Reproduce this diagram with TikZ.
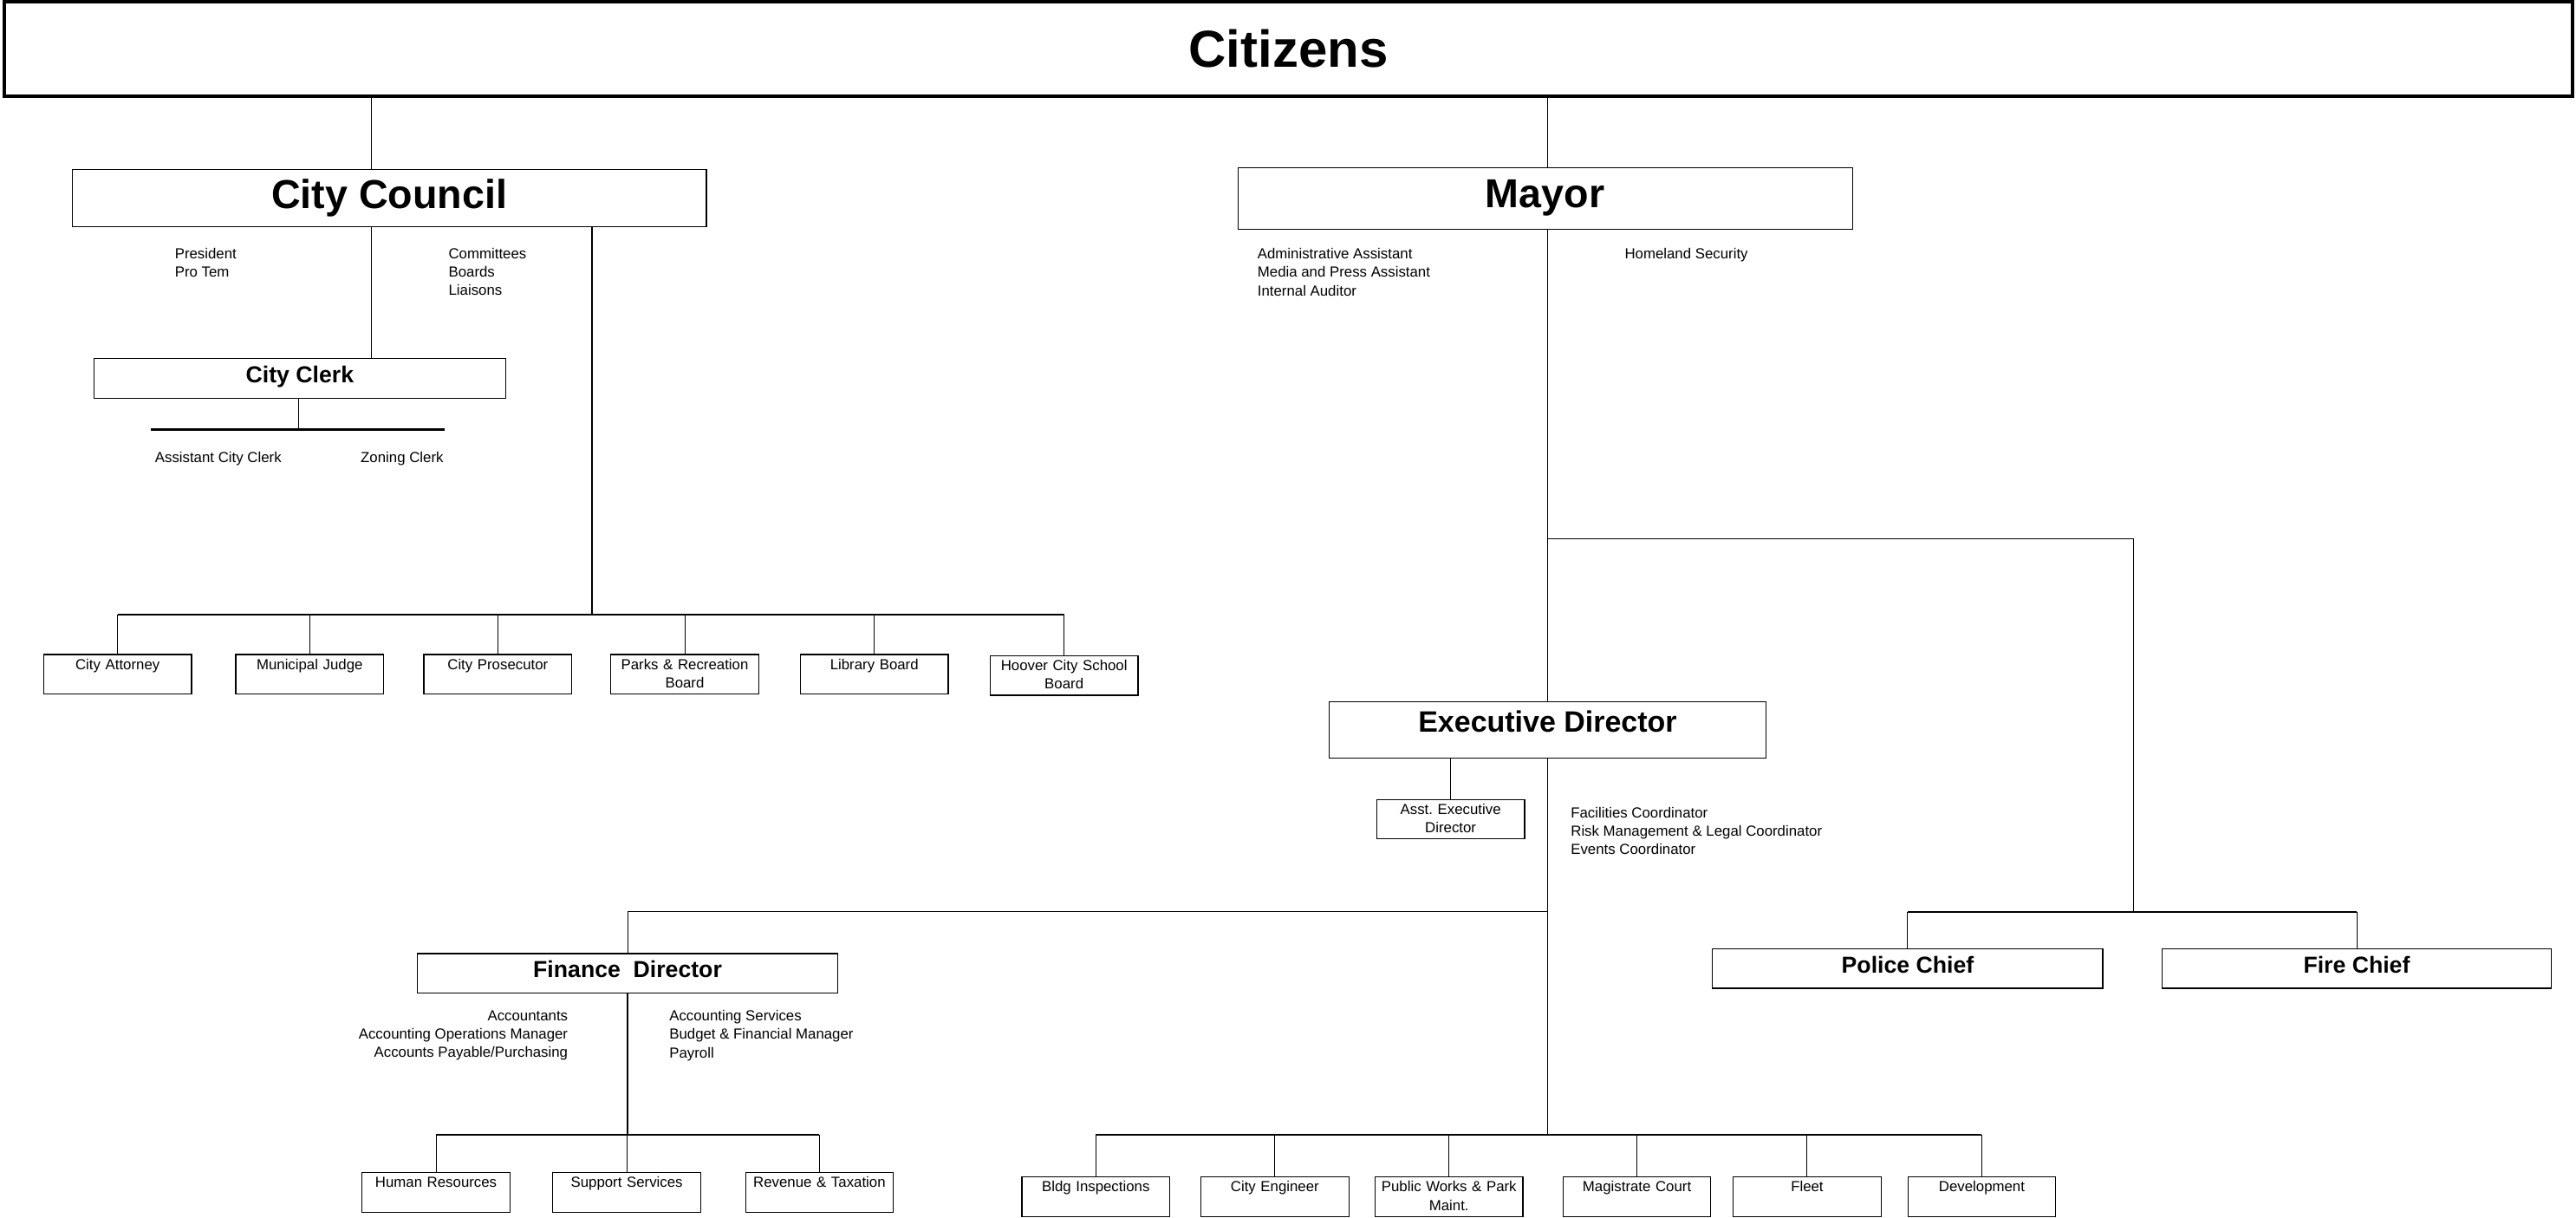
\documentclass[tikz,border=0pt]{standalone}
\usepackage{fontspec}
\setmainfont{Liberation Sans}
\usepackage{tikz}
\frenchspacing
\tikzset{
    box/.style={draw, line width=0.7pt, inner sep=0pt},
    unit/.style={box, anchor=north, text width=36mm, align=center, text height=3.6mm, text depth=6mm, font=\fontsize{10.1}{12.8}\selectfont},
    head/.style={box, font=\fontsize{16}{19}\selectfont\bfseries, text depth=5.7pt},
    note/.style={inner sep=0pt, align=left, font=\fontsize{10.1}{12.8}\selectfont},
    trunk/.style={line width=1pt},
    bar/.style={line width=1.1pt},
    drop/.style={line width=0.6pt}
}

\begin{document}
\begin{tikzpicture}[x=0.4mm, y=-0.4mm]
    \useasboundingbox (0, 0) rectangle (1568, 741);
    \node[box, line width=2.5pt, minimum width=625.4mm, minimum height=22.96mm, font=\fontsize{36}{40}\selectfont\bfseries] (citizens) at (784.3, 29.8) {Citizens};
    \begin{scope}
        \node[box, minimum width=154.4mm, minimum height=13.84mm, font=\fontsize{28}{32}\selectfont\bfseries] (council) at (237, 120.6) {City Council};
        \node[head, minimum width=100.3mm, minimum height=9.72mm] (clerk) at (182.5, 230.4) {City Clerk};
        \node[note, anchor=north west] (president) at (106.3, 150.7) {President\\Pro Tem};
        \node[note, anchor=north west] (committees) at (272.9, 150.7) {Committees\\Boards\\Liaisons};
        \node[note, anchor=north west] (asstclerk) at (94.2, 275) {Assistant City Clerk};
        \node[note, anchor=north west] (zoning) at (219.4, 275) {Zoning Clerk};
        \node[unit] (attorney) at (71.6, 398) {City Attorney};
        \node[unit] (judge) at (188.5, 398) {Municipal Judge};
        \node[unit] (prosecutor) at (303, 398) {City Prosecutor};
        \node[unit] (parks) at (416.8, 398) {Parks \& Recreation\\Board};
        \node[unit] (library) at (532.2, 398) {Library Board};
        \node[unit] (school) at (647.7, 398.8) {Hoover City School\\Board};
        \coordinate (cl) at (226, 0);
        \coordinate (cbar) at (360.3, 374);
        \coordinate (kbar) at (181.7, 261.5);
        \coordinate (kl) at (91.9, 261.5);
        \coordinate (kr) at (270.9, 261.5);
        \draw[trunk] (citizens.south -| cl) -- (council.north -| cl);
        \draw[trunk] (council.south -| cl) -- (clerk.north -| cl);
        \draw[drop] (clerk.south -| kbar) -- (kbar);
        \draw[line width=1.4pt] (kl) -- (kr);
        \draw[trunk] (council.south -| cbar) -- (cbar);
        \draw[bar] (attorney.north |- cbar) -- (school.north |- cbar);
        \draw[drop] (attorney.north |- cbar) -- (attorney.north) (judge.north |- cbar) -- (judge.north)
            (prosecutor.north |- cbar) -- (prosecutor.north) (parks.north |- cbar) -- (parks.north)
            (library.north |- cbar) -- (library.north) (school.north |- cbar) -- (school.north);
    \end{scope}
    \begin{scope}
        \node[box, minimum width=149.6mm, minimum height=14.92mm, font=\fontsize{28}{32}\selectfont\bfseries] (mayor) at (940.5, 120.7) {Mayor};
        \node[note, anchor=north west] (mayorstaff) at (765.3, 150.9) {Administrative Assistant\\Media and Press Assistant\\Internal Auditor};
        \node[note, anchor=north west] (homeland) at (988.8, 150.9) {Homeland Security};
        \node[box, minimum width=106.2mm, minimum height=13.72mm, font=\fontsize{20.4}{24}\selectfont\bfseries, text depth=11.4pt] (ed) at (942, 444.2) {Executive Director};
        \node[unit] (asst) at (883, 486.3) {Asst. Executive\\Director};
        \node[note, anchor=north west] (coordinators) at (956, 491) {Facilities Coordinator\\Risk Management \& Legal Coordinator\\Events Coordinator};
        \node[head, minimum width=95mm, minimum height=9.6mm] (police) at (1161.2, 589.4) {Police Chief};
        \node[head, minimum width=94.8mm, minimum height=9.6mm] (fire) at (1434.5, 589.4) {Fire Chief};
        \node[head, minimum width=102.5mm, minimum height=9.56mm] (finance) at (382, 592.3) {Finance\ \ Director};
        \node[note, anchor=north east, align=right] (accountants) at (345.8, 614.7) {Accountants\\Accounting Operations Manager\\Accounts Payable/Purchasing};
        \node[note, anchor=north west] (services) at (407.3, 614.7) {Accounting Services\\Budget \& Financial Manager\\Payroll};
        \node[unit] (hr) at (265.4, 713.3) {Human Resources};
        \node[unit] (support) at (381.5, 713.3) {Support Services};
        \node[unit] (revenue) at (498.8, 713.3) {Revenue \& Taxation};
        \node[unit] (bldg) at (667, 716) {Bldg Inspections};
        \node[unit] (engineer) at (776, 716) {City Engineer};
        \node[unit] (works) at (882, 716) {Public Works \& Park\\Maint.};
        \node[unit] (court) at (996.4, 716) {Magistrate Court};
        \node[unit] (fleet) at (1100, 716) {Fleet};
        \node[unit] (development) at (1206.3, 716) {Development};
        \coordinate (mt) at (942, 328);
        \coordinate (pbar) at (1298.7, 555);
        \coordinate (fbar) at (942, 555);
        \coordinate (ebar) at (942, 690.8);
        \coordinate (nbar) at (381.8, 690.8);
        \draw[trunk] (citizens.south -| mt) -- (mayor.north -| mt);
        \draw[trunk] (mayor.south -| mt) -- (ed.north);
        \draw[drop] (mt) -| (pbar);
        \draw[bar] (police.north |- pbar) -- (fire.north |- pbar);
        \draw[drop] (police.north |- pbar) -- (police.north) (fire.north |- pbar) -- (fire.north);
        \draw[drop] (asst.north |- ed.south) -- (asst.north);
        \draw[trunk] (ed.south) -- (ebar);
        \draw[drop] (fbar) -| (finance.north);
        \draw[bar] (bldg.north |- ebar) -- (development.north |- ebar);
        \draw[drop] (bldg.north |- ebar) -- (bldg.north) (engineer.north |- ebar) -- (engineer.north)
            (works.north |- ebar) -- (works.north) (court.north |- ebar) -- (court.north)
            (fleet.north |- ebar) -- (fleet.north) (development.north |- ebar) -- (development.north);
        \draw[trunk] (finance.south) -- (finance.south |- nbar);
        \draw[bar] (hr.north |- nbar) -- (revenue.north |- nbar);
        \draw[drop] (hr.north |- nbar) -- (hr.north) (support.north |- nbar) -- (support.north)
            (revenue.north |- nbar) -- (revenue.north);
    \end{scope}
\end{tikzpicture}
\end{document}
